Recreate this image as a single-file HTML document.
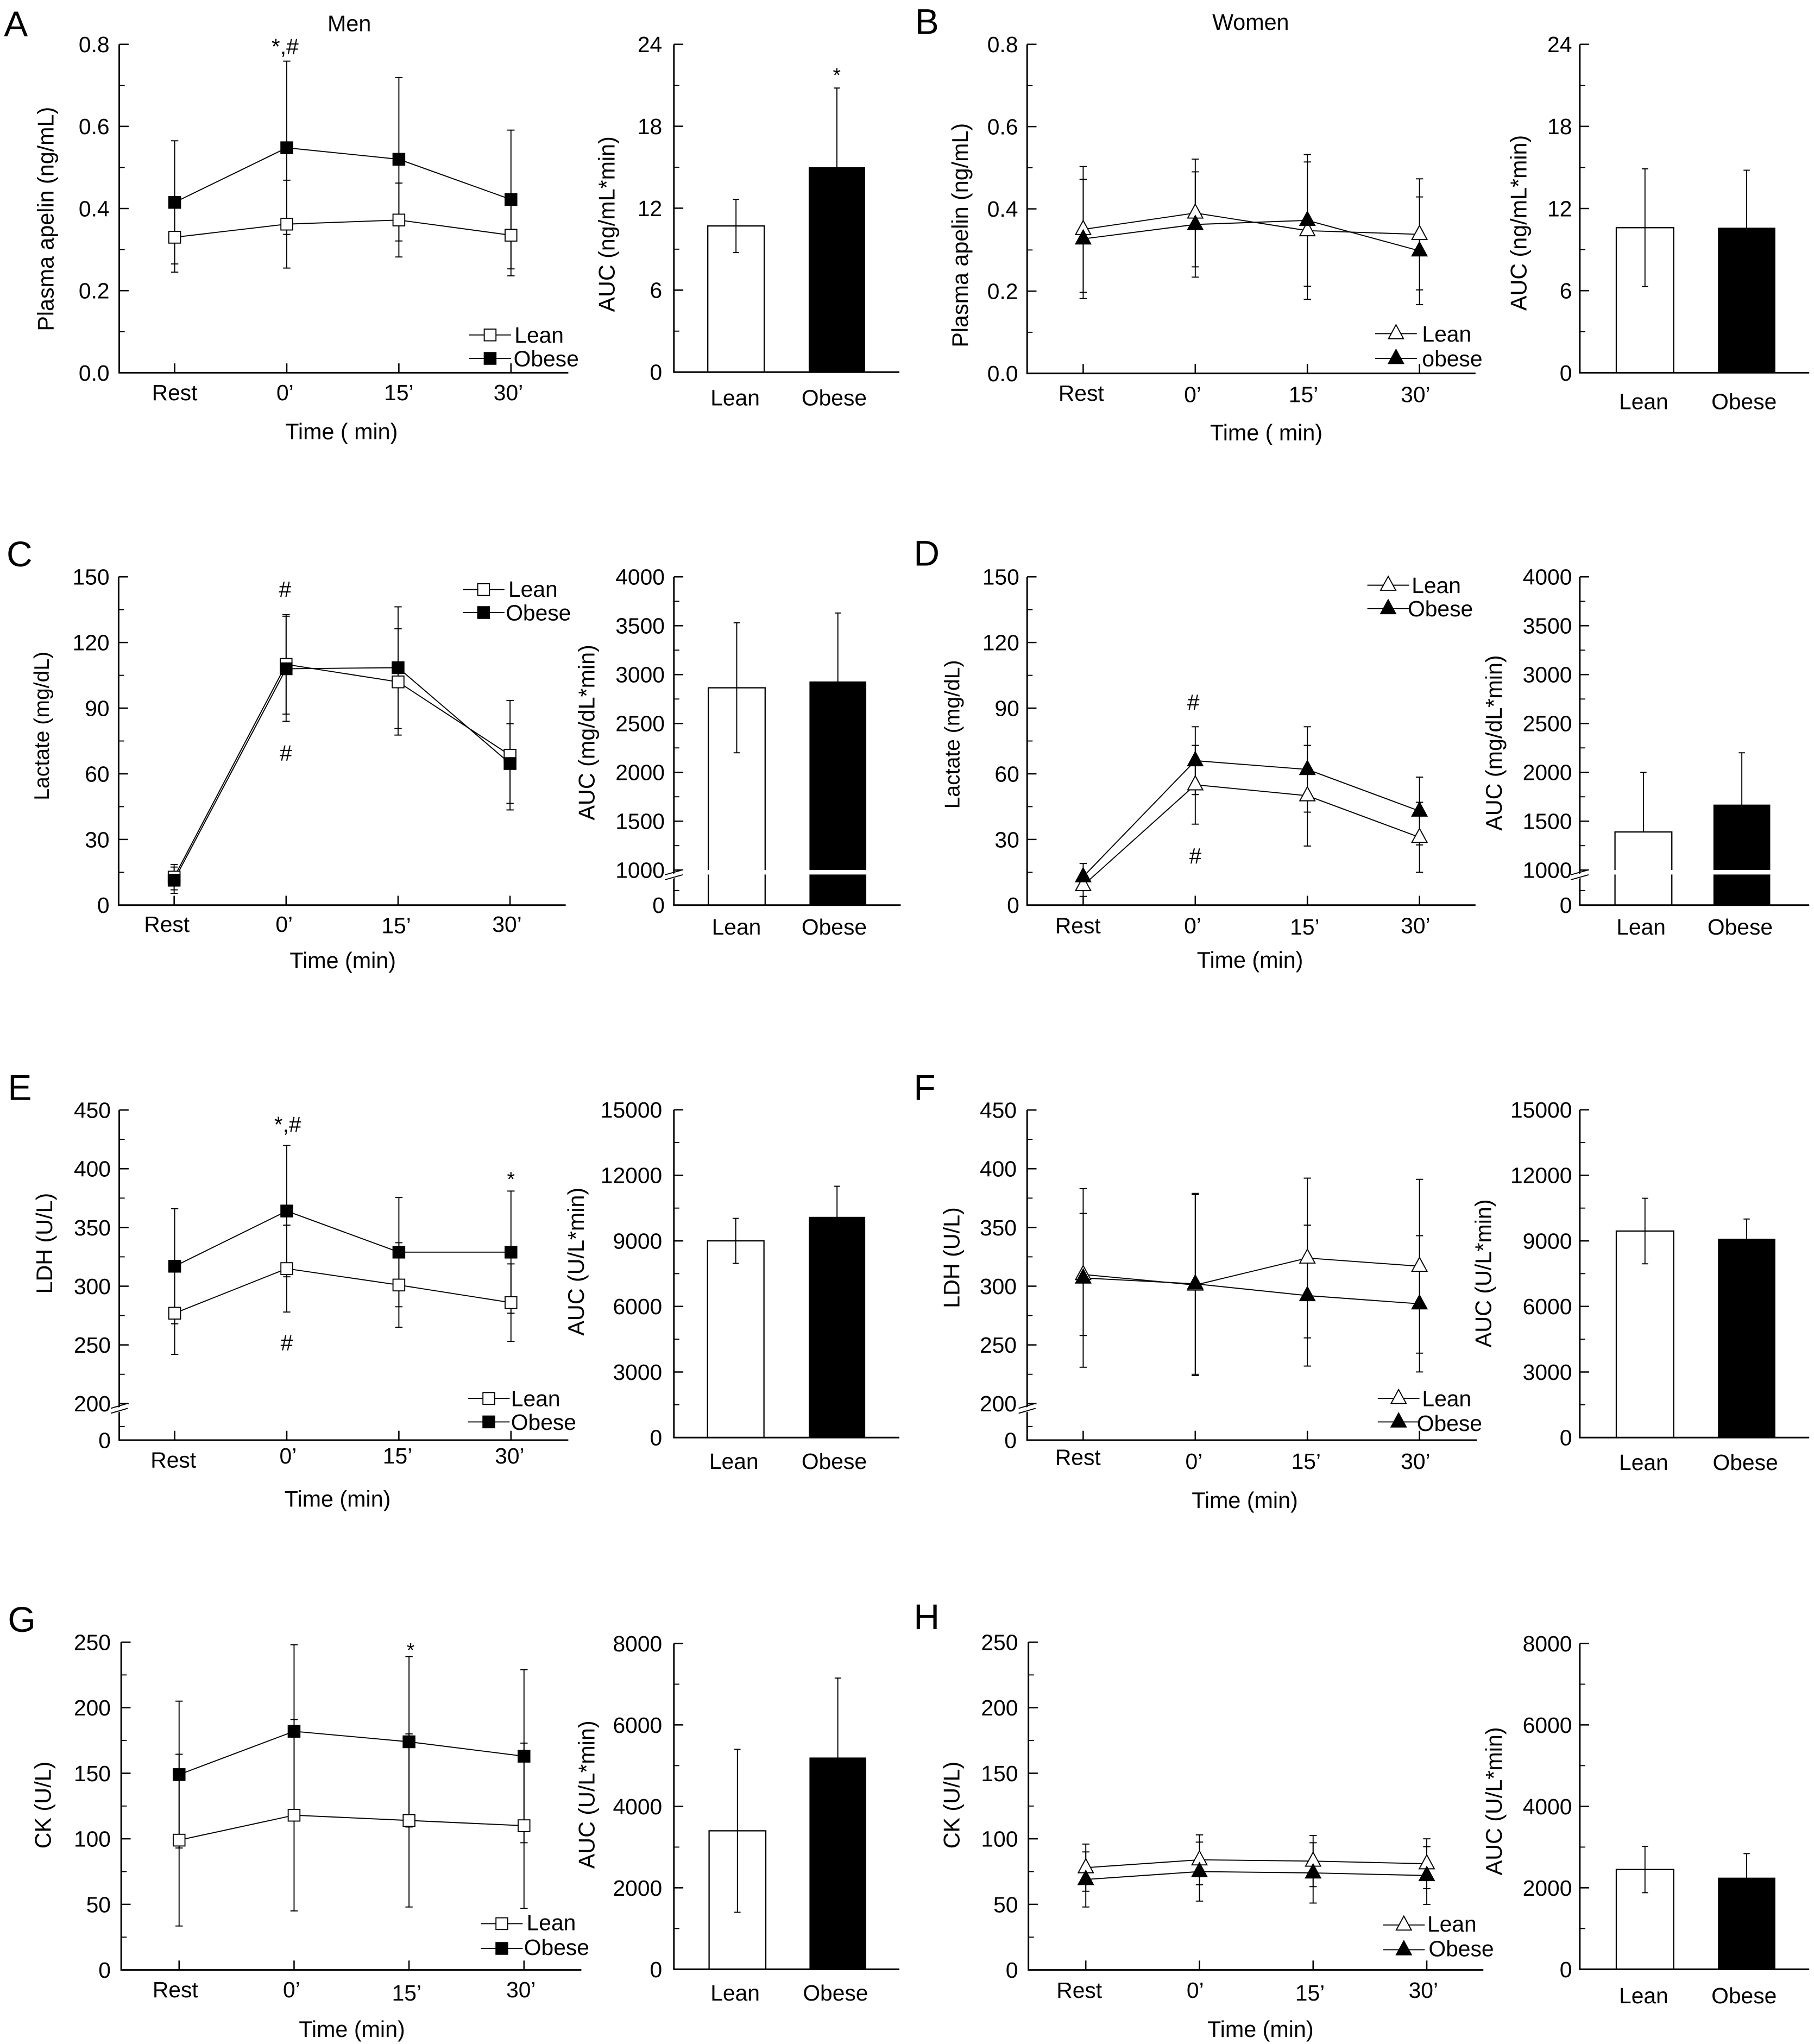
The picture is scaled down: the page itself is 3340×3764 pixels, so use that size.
<!DOCTYPE html>
<html lang="en">
<head>
<meta charset="utf-8">
<title>Plasma apelin, lactate, LDH and CK after exercise</title>
<style>
html,body{margin:0;padding:0;background:#fff;width:3340px;height:3764px;overflow:hidden}
svg{display:block}
text{font-family:"Liberation Sans",sans-serif;fill:#000}
.tick{font-size:17px}
.title{font-size:17.2px}
.small{font-size:16.3px}
.leg{font-size:17px}
.let{font-size:27.5px}
.ann{font-size:17px}
.star{font-size:15.5px}
</style>
</head>
<body>
<svg id="figure" xmlns="http://www.w3.org/2000/svg" width="3340" height="3764" viewBox="0 0 1391.67 1568.33">
<rect x="0" y="0" width="1392" height="1569" fill="#fff"/>
<text class="let" x="3" y="28">A</text>
<text class="let" x="702" y="26">B</text>
<text class="let" x="5" y="434.5">C</text>
<text class="let" x="701" y="434">D</text>
<text class="let" x="6" y="844">E</text>
<text class="let" x="701" y="844">F</text>
<text class="let" x="6" y="1252">G</text>
<text class="let" x="701" y="1250">H</text>
<text class="title" x="268" y="24" text-anchor="middle">Men</text>
<text class="title" x="959.5" y="23" text-anchor="middle">Women</text>

<text class="title" transform="translate(41 168) rotate(-90)" text-anchor="middle">Plasma apelin (ng/mL)</text>
<text class="title" x="262" y="337" text-anchor="middle">Time ( min)</text>
<text class="title" transform="translate(471.5 172) rotate(-90)" text-anchor="middle">AUC (ng/mL*min)</text>
<text class="title" transform="translate(742.5 180.5) rotate(-90)" text-anchor="middle">Plasma apelin (ng/mL)</text>
<text class="title" x="971.5" y="338" text-anchor="middle">Time ( min)</text>
<text class="title" transform="translate(1171 171) rotate(-90)" text-anchor="middle">AUC (ng/mL*min)</text>
<text class="small" transform="translate(37.5 557) rotate(-90)" text-anchor="middle">Lactate (mg/dL)</text>
<text class="title" x="263" y="743" text-anchor="middle">Time (min)</text>
<text class="title" transform="translate(456 562) rotate(-90)" text-anchor="middle">AUC (mg/dL*min)</text>
<text class="small" transform="translate(736 563.5) rotate(-90)" text-anchor="middle">Lactate (mg/dL)</text>
<text class="title" x="959" y="742.5" text-anchor="middle">Time (min)</text>
<text class="title" transform="translate(1152 570) rotate(-90)" text-anchor="middle">AUC (mg/dL*min)</text>
<text class="title" transform="translate(40 954) rotate(-90)" text-anchor="middle">LDH (U/L)</text>
<text class="title" x="259" y="1156" text-anchor="middle">Time (min)</text>
<text class="title" transform="translate(448 968) rotate(-90)" text-anchor="middle">AUC (U/L*min)</text>
<text class="title" transform="translate(736 965) rotate(-90)" text-anchor="middle">LDH (U/L)</text>
<text class="title" x="955" y="1157" text-anchor="middle">Time (min)</text>
<text class="title" transform="translate(1144 977) rotate(-90)" text-anchor="middle">AUC (U/L*min)</text>
<text class="title" transform="translate(39 1385) rotate(-90)" text-anchor="middle">CK (U/L)</text>
<text class="title" x="270" y="1563" text-anchor="middle">Time (min)</text>
<text class="title" transform="translate(456 1377) rotate(-90)" text-anchor="middle">AUC (U/L*min)</text>
<text class="title" transform="translate(736 1385) rotate(-90)" text-anchor="middle">CK (U/L)</text>
<text class="title" x="967" y="1563" text-anchor="middle">Time (min)</text>
<text class="title" transform="translate(1152 1382) rotate(-90)" text-anchor="middle">AUC (U/L*min)</text>

<text class="ann" x="218.7" y="41.5" text-anchor="middle">*,#</text>
<text class="star" x="642" y="63" text-anchor="middle">*</text>
<text class="ann" x="218.7" y="458" text-anchor="middle">#</text>
<text class="ann" x="219.3" y="583.5" text-anchor="middle">#</text>
<text class="ann" x="915.5" y="544.5" text-anchor="middle">#</text>
<text class="ann" x="917" y="662.5" text-anchor="middle">#</text>
<text class="ann" x="220.7" y="868.5" text-anchor="middle">*,#</text>
<text class="ann" x="220" y="1036" text-anchor="middle">#</text>
<text class="star" x="392" y="910" text-anchor="middle">*</text>
<text class="star" x="315" y="1271.5" text-anchor="middle">*</text>

<text class="leg" x="394.7" y="263">Lean</text>
<text class="leg" x="394" y="281">Obese</text>
<text class="leg" x="1091" y="262">Lean</text>
<text class="leg" x="1091" y="281">obese</text>
<text class="leg" x="390" y="458">Lean</text>
<text class="leg" x="388" y="476">Obese</text>
<text class="leg" x="1083" y="455">Lean</text>
<text class="leg" x="1080" y="473">Obese</text>
<text class="leg" x="392" y="1079">Lean</text>
<text class="leg" x="392" y="1097">Obese</text>
<text class="leg" x="1091" y="1079">Lean</text>
<text class="leg" x="1087" y="1098">Obese</text>
<text class="leg" x="404" y="1481">Lean</text>
<text class="leg" x="402" y="1500">Obese</text>
<text class="leg" x="1095" y="1482">Lean</text>
<text class="leg" x="1096" y="1501">Obese</text>
</svg>
<script>
// ---------- shared categories ----------
const timeCategories = ["Rest", "0\u2019", "15\u2019", "30\u2019"];
const groupCategories = ["Lean", "Obese"];

// ---------- axis ticks ----------
const apelinTicks = ["0.0", "0.2", "0.4", "0.6", "0.8"];
const apelinMinor = [0.1, 0.3, 0.5, 0.7];
const apelinAucTicks = ["0", "6", "12", "18", "24"];
const apelinAucMinor = [3, 9, 15, 21];
const lactateTicks = ["0", "30", "60", "90", "120", "150"];
const lactateMinor = [15, 45, 75, 105, 135];
const lactateAucTicks = ["0", "1000", "1500", "2000", "2500", "3000", "3500", "4000"];
const lactateAucMinor = [500, 1250, 1750, 2250, 2750, 3250, 3750];
const ldhTicks = ["0", "200", "250", "300", "350", "400", "450"];
const ldhMinor = [100, 225, 275, 325, 375, 425];
const ldhAucTicks = ["0", "3000", "6000", "9000", "12000", "15000"];
const ldhAucMinor = [1500, 4500, 7500, 10500, 13500];
const ckTicks = ["0", "50", "100", "150", "200", "250"];
const ckMinor = [25, 75, 125, 175, 225];
const ckAucTicks = ["0", "2000", "4000", "6000", "8000"];
const ckAucMinor = [1000, 3000, 5000, 7000];

// ---------- panel A ----------
const aLeanMean = [0.33, 0.362, 0.372, 0.335];
const aLeanSd = [0.085, 0.107, 0.09, 0.099];
const aObeseMean = [0.415, 0.548, 0.52, 0.422];
const aObeseSd = [0.15, 0.211, 0.199, 0.169];
const aAucMean = [10.7, 15];
const aAucSd = [1.95, 5.8];
// ---------- panel B ----------
const bLeanMean = [0.35, 0.39, 0.347, 0.338];
const bLeanSd = [0.153, 0.131, 0.167, 0.135];
const bObeseMean = [0.327, 0.362, 0.372, 0.298];
const bObeseSd = [0.145, 0.128, 0.16, 0.131];
const bAucMean = [10.6, 10.6];
const bAucSd = [4.3, 4.2];
// ---------- panel C ----------
const cLeanMean = [12.8, 110, 102, 68.5];
const cLeanSd = [5.8, 22.7, 24.3, 25];
const cObeseMean = [11.4, 108, 108.5, 64.7];
const cObeseSd = [6, 24, 27.8, 18.2];
const cAucMean = [2865, 2930];
const cAucSd = [665, 700];
// ---------- panel D ----------
const dLeanMean = [9, 55, 50, 31];
const dLeanSd = [5, 18, 23, 16];
const dObeseMean = [13, 66, 62, 43];
const dObeseSd = [6, 15.5, 19.5, 15.5];
const dAucMean = [1390, 1670];
const dAucSd = [610, 530];
// ---------- panel E ----------
const eLeanMean = [277, 315, 301, 286];
const eLeanSd = [35, 37, 36, 33];
const eObeseMean = [317, 364, 329, 329];
const eObeseSd = [49, 56, 46.5, 52];
const eAucMean = [9000, 10100];
const eAucSd = [1030, 1400];
// ---------- panel F ----------
const fLeanMean = [310, 301, 324, 317];
const fLeanSd = [52, 77, 68, 74];
const fObeseMean = [307, 302, 292, 285];
const fObeseSd = [76, 77, 60, 58];
const fAucMean = [9450, 9100];
const fAucSd = [1500, 900];
// ---------- panel G ----------
const gLeanMean = [99, 118, 114, 110];
const gLeanSd = [65.5, 73, 66, 63];
const gObeseMean = [149, 182, 174, 163];
const gObeseSd = [56, 66, 65, 66];
const gAucMean = [3400, 5200];
const gAucSd = [2000, 1950];
// ---------- panel H ----------
const hLeanMean = [78, 84, 83, 81];
const hLeanSd = [18, 19, 19.5, 19];
const hObeseMean = [69, 75, 74, 72];
const hObeseSd = [21, 22.5, 23, 22];
const hAucMean = [2450, 2250];
const hAucSd = [570, 590];

// ---------- layout only (geometry of each panel; no data) ----------
const linePanels = [
 {id:"a",shape:"square",axisX:91.5,axisEnd:436,top:34,topVal:0.8,base:286,x0:134,step:86,labelRight:84,catX:[134,218.7,306,390],catY:[301,301,301,301],legX:376,legY:[257,275],lean:aLeanMean,leanSd:aLeanSd,obese:aObeseMean,obeseSd:aObeseSd,ticks:apelinTicks,minor:apelinMinor},
 {id:"b",shape:"triangle",axisX:788,axisEnd:1132,top:34,topVal:0.8,base:286.5,x0:831,step:86,labelRight:781,catX:[829.5,915,1000,1086],catY:[301.5,302.6,302.6,302.6],legX:1071,legY:[256,275],lean:bLeanMean,leanSd:bLeanSd,obese:bObeseMean,obeseSd:bObeseSd,ticks:apelinTicks,minor:apelinMinor},
 {id:"c",shape:"square",axisX:91,axisEnd:434,top:442.6,topVal:150,base:694.5,x0:133.6,step:85.9,labelRight:84,catX:[128,218,304,389],catY:[709,709,710,709],legX:371,legY:[452.4,470],lean:cLeanMean,leanSd:cLeanSd,obese:cObeseMean,obeseSd:cObeseSd,ticks:lactateTicks,minor:lactateMinor},
 {id:"d",shape:"triangle",axisX:788,axisEnd:1132,top:442.6,topVal:150,base:694.5,x0:831,step:86,labelRight:782,catX:[827,915,1001,1086],catY:[710,710,711,710],legX:1065,legY:[449,467],lean:dLeanMean,leanSd:dLeanSd,obese:dObeseMean,obeseSd:dObeseSd,ticks:lactateTicks,minor:lactateMinor},
 {id:"e",shape:"square",axisX:91.5,axisEnd:436,top:851.7,topVal:450,base:1105,brkVal:200,brkY:1077,lowEnd:1084,brkHalf:6.5,x0:134,step:86,labelRight:85,catX:[133,221,305,391],catY:[1120,1117,1117,1117],legX:375,legY:[1073,1091],lean:eLeanMean,leanSd:eLeanSd,obese:eObeseMean,obeseSd:eObeseSd,ticks:ldhTicks,minor:ldhMinor},
 {id:"f",shape:"triangle",axisX:788,axisEnd:1133,top:851.7,topVal:450,base:1105,brkVal:200,brkY:1077,lowEnd:1084,brkHalf:6.5,x0:831,step:86,labelRight:780,catX:[827,916,1002,1086],catY:[1118,1121,1121,1121],legX:1073,legY:[1073,1091],lean:fLeanMean,leanSd:fLeanSd,obese:fObeseMean,obeseSd:fObeseSd,ticks:ldhTicks,minor:ldhMinor},
 {id:"g",shape:"square",axisX:93,axisEnd:446,top:1260,topVal:250,base:1511.5,x0:137.4,step:88.2,labelRight:85,catX:[134.5,223.7,312,399.7],catY:[1526.5,1526.5,1529,1526.5],legX:385,legY:[1476,1495],lean:gLeanMean,leanSd:gLeanSd,obese:gObeseMean,obeseSd:gObeseSd,ticks:ckTicks,minor:ckMinor},
 {id:"h",shape:"triangle",axisX:789,axisEnd:1138,top:1260,topVal:250,base:1511.5,x0:833,step:87.2,labelRight:781,catX:[828,917,1005,1092],catY:[1527,1527,1529,1527],legX:1077,legY:[1477,1496],lean:hLeanMean,leanSd:hLeanSd,obese:hObeseMean,obeseSd:hObeseSd,ticks:ckTicks,minor:ckMinor}
];
const barPanels = [
 {id:"a",axisX:517,axisEnd:690,top:34,topVal:24,base:285.5,x0:543,step:77.4,width:43.3,labelRight:508,catX:[564,640],catY:311,mean:aAucMean,sd:aAucSd,ticks:apelinAucTicks,minor:apelinAucMinor},
 {id:"b",axisX:1212,axisEnd:1388,top:34,topVal:24,base:286,x0:1240,step:78,width:44,labelRight:1206,catX:[1261,1338],catY:314,mean:bAucMean,sd:bAucSd,ticks:apelinAucTicks,minor:apelinAucMinor},
 {id:"c",axisX:517,axisEnd:691,top:442.6,topVal:4000,base:694.5,brkVal:1000,brkY:667.6,lowEnd:672,brkHalf:6.8,gap:[667.5,671],x0:543.4,step:77.6,width:43.6,labelRight:510,catX:[565,640],catY:717,mean:cAucMean,sd:cAucSd,ticks:lactateAucTicks,minor:lactateAucMinor},
 {id:"d",axisX:1212,axisEnd:1388,top:442.6,topVal:4000,base:694.5,brkVal:1000,brkY:667.6,lowEnd:672,brkHalf:6.8,gap:[667.5,671],x0:1239,step:75.5,width:43.6,labelRight:1206,catX:[1259,1335],catY:717,mean:dAucMean,sd:dAucSd,ticks:lactateAucTicks,minor:lactateAucMinor},
 {id:"e",axisX:517,axisEnd:690,top:851.5,topVal:15000,base:1103,x0:542.8,step:77.7,width:43.3,labelRight:508,catX:[563,640],catY:1127,mean:eAucMean,sd:eAucSd,ticks:ldhAucTicks,minor:ldhAucMinor},
 {id:"f",axisX:1212,axisEnd:1388,top:851.5,topVal:15000,base:1103,x0:1240,step:78,width:44,labelRight:1206,catX:[1261,1339],catY:1128,mean:fAucMean,sd:fAucSd,ticks:ldhAucTicks,minor:ldhAucMinor},
 {id:"g",axisX:517,axisEnd:690,top:1261,topVal:8000,base:1511,x0:544,step:77,width:43.5,labelRight:508,catX:[564,641],catY:1535,mean:gAucMean,sd:gAucSd,ticks:ckAucTicks,minor:ckAucMinor},
 {id:"h",axisX:1212,axisEnd:1388,top:1261,topVal:8000,base:1511,x0:1240,step:78,width:44,labelRight:1206,catX:[1261,1338],catY:1537,mean:hAucMean,sd:hAucSd,ticks:ckAucTicks,minor:ckAucMinor}
];

// ---------- drawing ----------
const svg = document.getElementById("figure");
const NS = "http://www.w3.org/2000/svg";
const AXIS_W = 1.25, THIN_W = 0.8, MAJOR = 7.2, MINOR = 4.2;

function make(parent, tag, attrs, name) {
  const el = document.createElementNS(NS, tag);
  
  
  for (const k in attrs) el.setAttribute(k, attrs[k]);
  parent.appendChild(el);
  return el;
}
function seg(parent, x1, y1, x2, y2, w, name) {
  return make(parent, "line", {x1, y1, x2, y2, stroke: "#000", "stroke-width": w}, name);
}
function yScale(p) {
  return function (v) {
    if (p.brkVal !== undefined) {
      if (v < p.brkVal) return p.base - v * (p.base - p.lowEnd) / p.brkVal;
      return p.brkY - (v - p.brkVal) * (p.brkY - p.top) / (p.topVal - p.brkVal);
    }
    return p.base - v * (p.base - p.top) / p.topVal;
  };
}
function drawYAxis(g, p, y) {
  seg(g, p.axisX, p.top, p.axisX, p.base, AXIS_W, "y-axis-line");
  seg(g, p.axisX - 0.6, p.base, p.axisEnd, p.base, AXIS_W, "x-axis-line");
  p.ticks.forEach(function (t) {
    const v = Number(t), yy = y(v);
    if (v !== 0) seg(g, p.axisX, yy, p.axisX + MAJOR, yy, AXIS_W * 0.85, "y-tick-" + t);
    const lab = make(g, "text", {x: p.labelRight, y: yy + 6, "text-anchor": "end", class: "tick"}, "y-tick-label-" + t);
    lab.textContent = t;
  });
  p.minor.forEach(function (v) {
    seg(g, p.axisX, y(v), p.axisX + MINOR, y(v), THIN_W, "y-minor-tick");
  });
  if (p.brkVal !== undefined) {
    const cy = p.brkY + 3.6, h = p.brkHalf, x = p.axisX;
    make(g, "polygon", {points: (x - h) + "," + (cy + 2) + " " + (x + h) + "," + (cy - 3.8) + " " + (x + h) + "," + (cy - 0.2) + " " + (x - h) + "," + (cy + 5.6), fill: "#fff"}, "axis-break-gap");
    seg(g, x - h, cy, x + h, cy - 3.8, THIN_W, "axis-break-mark-upper");
    seg(g, x - h, cy + 3.8, x + h, cy, THIN_W, "axis-break-mark-lower");
  }
}
function whisker(g, x, yHi, yLo, cap, name) {
  seg(g, x, yHi, x, yLo, THIN_W, name + "-stem");
  seg(g, x - cap, yHi, x + cap, yHi, THIN_W, name + "-cap-high");
  seg(g, x - cap, yLo, x + cap, yLo, THIN_W, name + "-cap-low");
}
function marker(g, shape, x, y, filled, name) {
  const fill = filled ? "#000" : "#fff";
  if (shape === "square") {
    return make(g, "rect", {x: x - 4.5, y: y - 4.5, width: 9, height: 9, fill, stroke: "#000", "stroke-width": THIN_W}, name);
  }
  return make(g, "polygon", {points: x + "," + (y - 6.8) + " " + (x - 5.8) + "," + (y + 3.9) + " " + (x + 5.8) + "," + (y + 3.9), fill, stroke: "#000", "stroke-width": THIN_W}, name);
}
function drawLinePanel(p) {
  const g = make(svg, "g", {}, "panel-" + p.id + "-time-course");
  const y = yScale(p);
  const x = function (i) { return p.x0 + i * p.step; };
  drawYAxis(g, p, y);
  timeCategories.forEach(function (c, i) {
    seg(g, x(i), p.base, x(i), p.base - MAJOR, AXIS_W * 0.85, "x-tick-" + i);
    const lab = make(g, "text", {x: p.catX[i], y: p.catY[i] + 6, "text-anchor": "middle", class: "tick"}, "x-tick-label-" + i);
    lab.textContent = c;
  });
  const series = [["lean", p.lean, p.leanSd, false], ["obese", p.obese, p.obeseSd, true]];
  series.forEach(function (s) {
    s[1].forEach(function (m, i) {
      whisker(g, x(i), y(m + s[2][i]), y(m - s[2][i]), 2.8, s[0] + "-error-bar-" + i);
    });
  });
  series.forEach(function (s) {
    make(g, "polyline", {points: s[1].map(function (m, i) { return x(i) + "," + y(m); }).join(" "), fill: "none", stroke: "#000", "stroke-width": THIN_W}, s[0] + "-line");
  });
  series.forEach(function (s) {
    s[1].forEach(function (m, i) {
      marker(g, p.shape, x(i), y(m), s[3], s[0] + "-point-" + i);
    });
  });
  series.forEach(function (s, k) {
    seg(g, p.legX - 16, p.legY[k], p.legX + 16, p.legY[k], THIN_W, "legend-line-" + s[0]);
    marker(g, p.shape, p.legX, p.legY[k], s[3], "legend-marker-" + s[0]);
  });
}
function drawBarPanel(p) {
  const g = make(svg, "g", {}, "panel-" + p.id + "-auc-bars");
  const y = yScale(p);
  const x = function (i) { return p.x0 + i * p.step; };
  p.mean.forEach(function (m, i) {
    const top = y(m), filled = i === 1;
    const cx = x(i) + p.width / 2;
    const hi = m + p.sd[i], lo = m - p.sd[i];
    const hasLow = p.brkVal === undefined || lo >= p.brkVal;
    if (hasLow) {
      whisker(g, cx, y(hi), y(lo), 2.4, "auc-error-bar-" + groupCategories[i].toLowerCase());
    } else {
      seg(g, cx, y(hi), cx, top, THIN_W, "auc-error-bar-stem");
      seg(g, cx - 2.4, y(hi), cx + 2.4, y(hi), THIN_W, "auc-error-bar-cap");
    }
    make(g, "rect", {x: x(i), y: top, width: p.width, height: p.base - top, fill: filled ? "#000" : "none", stroke: "#000", "stroke-width": filled ? 0 : 0.95}, "auc-bar-" + groupCategories[i].toLowerCase());
    if (p.gap) make(g, "rect", {x: x(i) - 1.5, y: p.gap[0], width: p.width + 3, height: p.gap[1] - p.gap[0], fill: "#fff"}, "auc-bar-break-gap");
    const lab = make(g, "text", {x: p.catX[i], y: p.catY, "text-anchor": "middle", class: "tick"}, "auc-category-label-" + groupCategories[i].toLowerCase());
    lab.textContent = groupCategories[i];
  });
  drawYAxis(g, p, y);
}
linePanels.forEach(drawLinePanel);
barPanels.forEach(drawBarPanel);
</script>
</body>
</html>
